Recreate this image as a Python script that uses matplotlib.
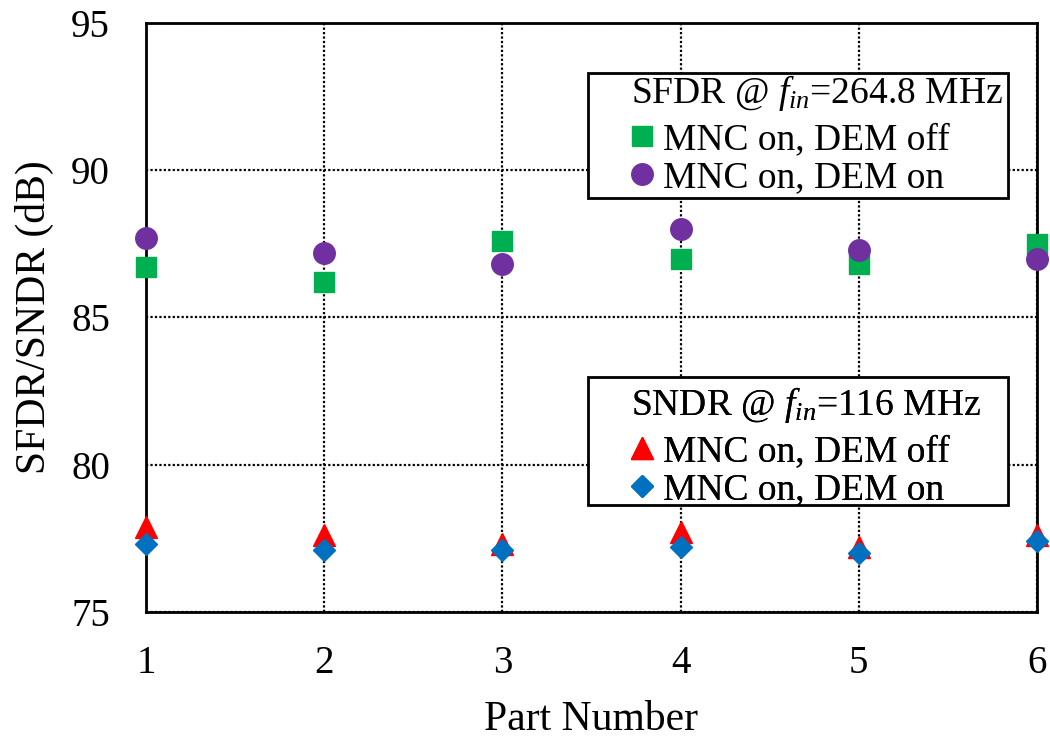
import matplotlib
matplotlib.use("Agg")
import matplotlib.pyplot as plt
from matplotlib.patches import Rectangle

# --- datos ---
parts = [1, 2, 3, 4, 5, 6]
sfdr_dem_off = [86.7, 86.2, 87.6, 87.0, 86.8, 87.5]
sfdr_dem_on = [87.7, 87.2, 86.8, 88.0, 87.3, 87.0]
sndr_dem_off = [77.9, 77.6, 77.3, 77.7, 77.2, 77.6]
sndr_dem_on = [77.3, 77.1, 77.1, 77.2, 77.0, 77.4]

y_ticks = [75, 80, 85, 90, 95]

plt.rcParams['font.family'] = ['Liberation Serif', 'DejaVu Serif']
plt.rcParams['mathtext.fontset'] = 'custom'
plt.rcParams['mathtext.rm'] = 'Liberation Serif'
plt.rcParams['mathtext.it'] = 'Liberation Serif:italic'

FS = 27

fig = plt.figure(figsize=(10.5, 7.37), dpi=100)
ax = fig.add_axes([146 / 1050, 1 - 612 / 737, (1037 - 146) / 1050, (612 - 23) / 737])

ax.set_xlim(1, 6)
ax.set_ylim(75, 95)
ax.set_xticks(parts)
ax.set_yticks(y_ticks)
ax.tick_params(length=0, labelsize=FS + 1)
ax.tick_params(axis='y', pad=26)
ax.tick_params(axis='x', pad=24)
ax.grid(True, color='black', linestyle=(0, (1, 1)), linewidth=1.6)
ax.set_axisbelow(True)
for sp in ax.spines.values():
    sp.set_linewidth(2)

ax.set_xlabel("Part Number", fontsize=30, labelpad=13)
ax.set_ylabel("SFDR/SNDR (dB)", fontsize=30, labelpad=12)

# SFDR
h1, = ax.plot(parts, sfdr_dem_off, 's', color='#00B050', ms=15, clip_on=False, zorder=3,
              label="MNC on, DEM off")
h2, = ax.plot(parts, sfdr_dem_on, 'o', color='#7030A0', ms=15.5, clip_on=False, zorder=4,
              label="MNC on, DEM on")
# SNDR
h3, = ax.plot(parts, sndr_dem_off, '^', color='#FF0000', ms=16, clip_on=False, zorder=3,
              label="MNC on, DEM off")
h4, = ax.plot(parts, sndr_dem_on, 'D', color='#0070C0', ms=10.8, clip_on=False, zorder=4,
              label="MNC on, DEM on")

LEG_FONT = {'family': ['Liberation Serif'], 'size': FS}


def add_legend(handles, title, anchor, box):
    x0, y0, x1, y1 = box
    ax.add_patch(Rectangle((x0 / 1050, 1 - y1 / 737), (x1 - x0) / 1050, (y1 - y0) / 737,
                           transform=fig.transFigure, facecolor='white',
                           edgecolor='black', linewidth=2, zorder=4.5, clip_on=False))
    leg = ax.legend(handles=handles, title=title, loc='upper left',
                    bbox_to_anchor=anchor, bbox_transform=fig.transFigure,
                    frameon=False, prop=LEG_FONT, title_fontproperties=LEG_FONT,
                    alignment='left', borderpad=0, labelspacing=0.1,
                    handlelength=0.6, handletextpad=0.25, borderaxespad=0)
    leg._legend_box.sep = 7
    leg.set_zorder(6)
    ax.add_artist(leg)
    return leg


add_legend([h1, h2], r"SFDR @ $f_{in}$=264.8 MHz", (631 / 1050, 1 - 73 / 737), (588, 73, 1008, 198))
add_legend([h3, h4], r"SNDR @ $f_{in}$=116 MHz", (631 / 1050, 1 - 385 / 737), (588, 377, 1008, 505))

fig.savefig("out.png", dpi=100)
